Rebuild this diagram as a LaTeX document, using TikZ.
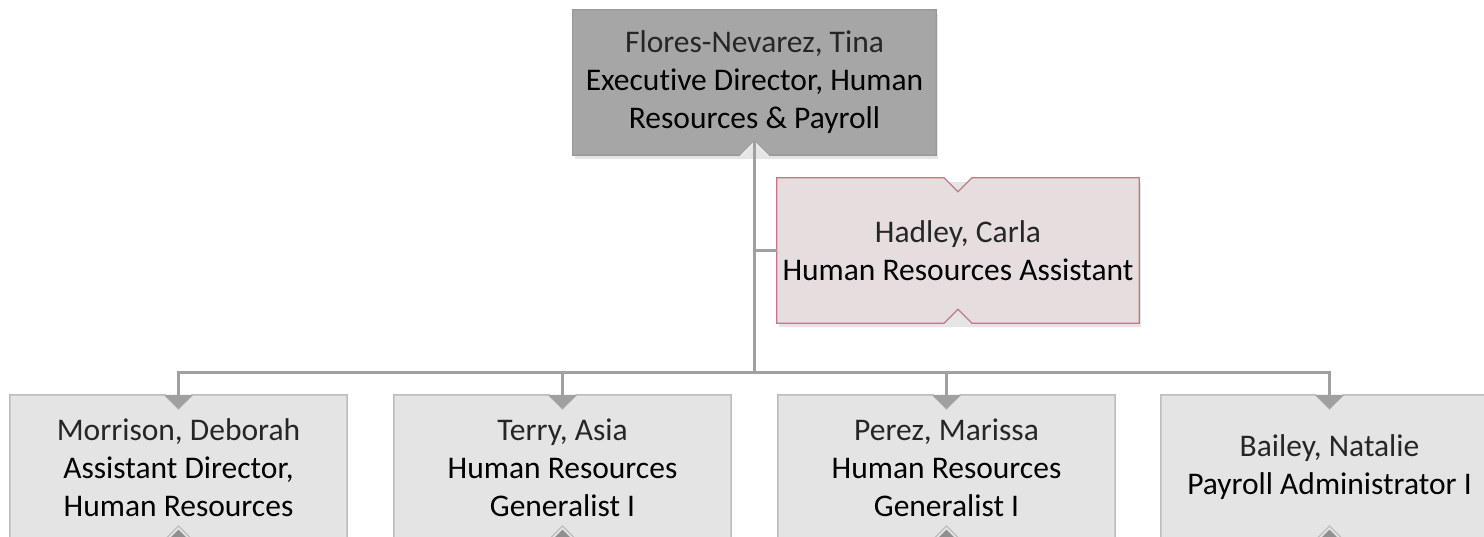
\documentclass[tikz,border=0pt]{standalone}
\usepackage{fontspec}
\setmainfont{Carlito}[Ligatures={NoCommon}]
\usetikzlibrary{calc,backgrounds,arrows.meta}
\definecolor{topfill}{HTML}{A6A6A6}
\definecolor{topdraw}{HTML}{999999}
\definecolor{hadfill}{HTML}{E6DEDE}
\definecolor{haddraw}{HTML}{C07A86}
\definecolor{botfill}{HTML}{E4E4E4}
\definecolor{botdraw}{HTML}{BDBDBD}
\definecolor{conncol}{HTML}{A0A0A0}
\definecolor{namecol}{HTML}{262626}
\newcommand\nbpath[1]{(#1.north west) -- ($(#1.north)+(-14,0)$) -- ($(#1.north)+(0,14)$) -- ($(#1.north)+(14,0)$) -- (#1.north east) -- (#1.south east) -- ($(#1.south)+(14,0)$) -- ($(#1.south)+(0,-14)$) -- ($(#1.south)+(-14,0)$) -- (#1.south west) -- cycle}
\newcommand\nm[1]{{\color{namecol}#1}}
\tikzset{
  person/.style={rectangle, draw=none, align=center, inner sep=0pt,
    font=\fontsize{31.5}{38}\selectfont, text=black},
  topbox/.style={person, minimum width=363, minimum height=145},
  hadbox/.style={person, minimum width=362, minimum height=145},
  botbox/.style={person, minimum width=337, minimum height=145},
  conn/.style={draw=conncol, line width=3pt},
  tipped/.style={conn, -{Triangle[width=28pt,length=14pt]}},
  shadowed/.style={fill=black, opacity=0.10},
}
\begin{document}
\begin{tikzpicture}[x=1pt,y=-1pt]
\useasboundingbox (0,0) rectangle (1484,536);
\clip (0,0) rectangle (1484,536);
\node[topbox] (top) at (754.5,82.5) {\nm{Flores-Nevarez, Tina}\\Executive Director, Human\\Resources \& Payroll};
\node[hadbox] (had) at (958,250.5) {\nm{Hadley, Carla}\\Human Resources Assistant};
\node[botbox] (b1) at (178.5,467.5) {\nm{Morrison, Deborah}\\Assistant Director,\\Human Resources};
\node[botbox] (b2) at (562.5,467.5) {\nm{Terry, Asia}\\Human Resources\\Generalist I};
\node[botbox] (b3) at (946.5,467.5) {\nm{Perez, Marissa}\\Human Resources\\Generalist I};
\node[botbox] (b4) at (1329.5,467.5) {\nm{Bailey, Natalie}\\Payroll Administrator I};
\coordinate (bus) at (754.5,372);
\begin{pgfonlayer}{background}
  \clip (0,0) rectangle (1484,536);
  % shadows
  \fill[shadowed] ([shift={(2,4)}]top.north west) rectangle ([shift={(2,4)}]top.south east);
  \fill[shadowed] ([shift={(2,4)}]had.north west) rectangle ([shift={(2,4)}]had.south east);
  % top box
  \filldraw[fill=topfill, draw=topdraw, line width=1.2pt]
    (top.north west) -- (top.north east) -- (top.south east) -- ($(top.south)+(14,0)$) -- ($(top.south)+(0,-14)$) -- ($(top.south)+(-14,0)$) -- (top.south west) -- cycle;
  \draw[white!85!gray, line width=1.5pt] ($(top.south)+(-14,1)$) -- ($(top.south)+(0,-13)$) -- ($(top.south)+(14,1)$);
  % Hadley box
  \filldraw[fill=hadfill, draw=haddraw, line width=1.2pt] \nbpath{had};
  % bottom boxes
  \foreach \b in {b1,b2,b3,b4}{
    \filldraw[fill=botfill, draw=botdraw, line width=1.5pt] \nbpath{\b};
    \filldraw[fill=conncol!90!black, draw=white!80!gray, line width=1.5pt]
      ($(\b.south)+(-12,0)$) -- ($(\b.south)+(0,-12)$) -- ($(\b.south)+(12,0)$) -- cycle;
  }
\end{pgfonlayer}
% connectors
\draw[conn] ($(top.south)+(0,-14)$) -- (bus);
\draw[conn] (top.south |- had.west) -- (had.west);
\foreach \b in {b1,b2,b3,b4}{
  \draw[tipped] (bus) -| ($(\b.north)+(0,14)$);
}
\end{tikzpicture}
\end{document}
